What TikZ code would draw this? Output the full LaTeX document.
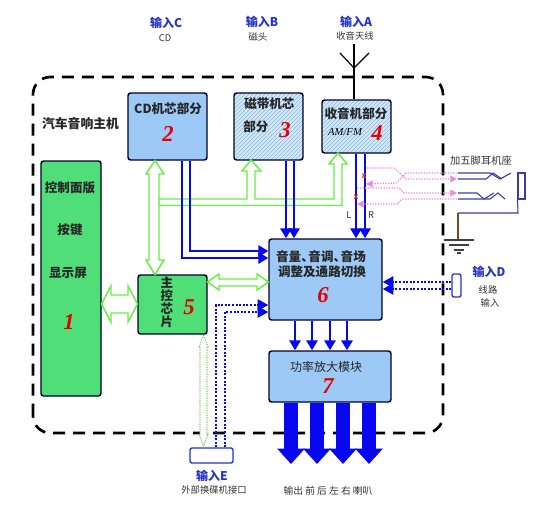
\documentclass[tikz,border=0pt]{standalone}
\usepackage{fontspec}
\setmainfont{Noto Sans CJK SC}
\newfontfamily\numfont{Liberation Serif}
\usetikzlibrary{arrows.meta,patterns,calc}
\definecolor{boxblue}{HTML}{9CC9F5}
\definecolor{hatchbase}{HTML}{D4E8F8}
\definecolor{hatchline}{HTML}{86BAE8}
\definecolor{boxgreen}{HTML}{50DE78}
\definecolor{lightgreen}{HTML}{66EE44}
\definecolor{flowblue}{HTML}{0808F0}
\definecolor{inputblue}{HTML}{2233CC}
\definecolor{pinkline}{HTML}{EE88E0}
\definecolor{jackblue}{HTML}{3A3AA8}
\def\px{0.75pt}
\tikzset{
  unitbox/.style={draw=black!85!blue,line width=1.1pt,rounded corners=2pt,inner sep=0pt},
  bluebox/.style={unitbox,fill=boxblue},
  greenbox/.style={unitbox,fill=boxgreen},
  hatchbox/.style={unitbox,preaction={fill=hatchbase},pattern=north east lines,pattern color=hatchline},
  boxcap/.style={inner sep=0pt,font=\fontsize{9.4}{10}\selectfont\bfseries,text=black!85},
  thintext/.style={inner sep=0pt,font=\fontsize{7}{8}\selectfont,text=black!80},
  inlabel/.style={inner sep=0pt,font=\fontsize{9}{10}\selectfont\bfseries,text=inputblue},
  bignum/.style={inner sep=0pt,text=red!90!black,font=\fontsize{17}{18}\selectfont\numfont\bfseries\itshape},
  flowline/.style={draw=flowblue,line width=1.7pt,-{Triangle[length=7.5pt,width=8.5pt]}},
  flowdot/.style={draw=flowblue,line width=1.5pt,dash pattern=on 1.5pt off 1.2pt,-{Triangle[length=8pt,width=8.5pt]}},
  bigflow/.style={draw=flowblue,line width=10pt,-{Triangle[length=11.5pt,width=20pt]}},
  hollowarrow/.style={draw=lightgreen,fill=white,line width=1.1pt,line join=miter},
  hollowdot/.style={draw=lightgreen!70!gray,fill=white,line width=.8pt,densely dotted},
  pinkpath/.style={draw=pinkline,line width=.9pt,dash pattern=on 1pt off 1pt},
  pinkarrow/.style={pinkpath,-{Triangle[length=5pt,width=5pt,fill=pinkline]}},
  jackline/.style={draw=jackblue,line width=.8pt},
  portbox/.style={draw=inputblue,line width=1pt,fill=white,rounded corners=1.5pt,inner sep=0pt},
}
\begin{document}
\begin{tikzpicture}[x=0.75pt,y=-0.75pt]
\useasboundingbox (0,0) rectangle (548,515);
% frame
\draw[black,line width=2pt,dash pattern=on 9pt off 6pt,rounded corners=13pt] (33,433) -- (33,77) -- (443,77) -- (443,433) -- cycle;
% units
\node[bluebox,minimum width=79*\px,minimum height=67*\px] (cd) at (167.5,126.5) {};
\node[hatchbox,minimum width=69*\px,minimum height=67*\px] (tape) at (268.5,126.5) {};
\node[hatchbox,minimum width=69*\px,minimum height=53*\px] (radio) at (356.5,126.5) {};
\node[greenbox,minimum width=60*\px,minimum height=235*\px] (panel) at (71,278.5) {};
\node[greenbox,minimum width=69*\px,minimum height=59*\px] (chip) at (172.5,304.5) {};
\node[bluebox,minimum width=113*\px,minimum height=81*\px] (six) at (325.5,279.5) {};
\node[bluebox,minimum width=122*\px,minimum height=51*\px] (seven) at (330,376.5) {};
\node[portbox,minimum width=43*\px,minimum height=15*\px] (portE) at (211.5,455.5) {};
\node[portbox,minimum width=9*\px,minimum height=23*\px] (portD) at (456.5,285.5) {};
% hollow green arrows
\draw[hollowarrow] (159,199) -- (247,199) -- (247,171) -- (242,171) -- (251,160) -- (261,171) -- (255,171) -- (255,199) -- (334,199) -- (334,164) -- (329,164) -- (338,153) -- (347,164) -- (342,164) -- (342,205.5) -- (159,205.5) -- cycle;
\draw[hollowarrow] (155,160.5) -- (164,174) -- (159,174) -- (159,260) -- (164,260) -- (155,274.5) -- (146,260) -- (149,260) -- (149,174) -- (146,174) -- cycle;
\draw[hollowarrow] (101.5,304) -- (111,286) -- (111,295) -- (128,295) -- (128,286) -- (137.5,304) -- (128,322) -- (128,313) -- (111,313) -- (111,322) -- cycle;
\draw[hollowarrow] (207.5,282) -- (219,274) -- (219,279) -- (257,279) -- (257,274) -- (268.5,282) -- (257,290) -- (257,286) -- (219,286) -- (219,290) -- cycle;
\draw[hollowdot] (203.5,335) -- (208,347) -- (207,347) -- (207,434) -- (208,434) -- (203.5,447) -- (199,434) -- (200,434) -- (200,347) -- (199,347) -- cycle;
% blue flows
\draw[flowline] (182,0 |- cd.south) -- (182,258) -- (0,258 -| six.west);
\draw[flowline] (190,0 |- cd.south) -- (190,251) -- (0,251 -| six.west);
\draw[flowline] (286,0 |- tape.south) -- (286,0 |- six.north);
\draw[flowline] (294,0 |- tape.south) -- (294,0 |- six.north);
\draw[flowline] (356,0 |- radio.south) -- (356,0 |- six.north);
\draw[flowline] (365,0 |- radio.south) -- (365,0 |- six.north);
\foreach \x in {295,312,330,347} \draw[flowline] (\x,0 |- six.south) -- (\x,0 |- seven.north);
\foreach \x in {291,317,343,369} \draw[bigflow] (\x,0 |- seven.south) -- (\x,464);
\draw[flowdot] (216,0 |- portE.north) -- (216,305) -- (0,305 -| six.west);
\draw[flowdot] (225,0 |- portE.north) -- (225,312) -- (0,312 -| six.west);
\draw[flowdot] (0,282 -| portD.west) -- (0,282 -| six.east);
\draw[flowdot] (0,289 -| portD.west) -- (0,289 -| six.east);
% antenna
\coordinate (antTop) at (354,44);
\coordinate (antJoin) at (354,68);
\draw[black,line width=.9pt] (antTop) -- (354,0 |- radio.north);
\draw[black,line width=.9pt] (340,53) -- (antJoin) -- (369,53);
% jack
\draw[jackline] (458,173) -- (490,173) -- (500,179) -- (511,173);
\draw[jackline] (458,179) -- (486,179) -- (493,173) -- (502,179);
\draw[jackline] (458,193) -- (477,193) -- (484,199) -- (494,193);
\draw[jackline] (458,199) -- (490,199) -- (498,193) -- (505,199);
\node[jackline,draw,fill=white,minimum width=7*\px,minimum height=26*\px,inner sep=0pt] (plug) at (521.5,186) {};
\coordinate (gnd) at (458,240);
\draw[jackline] (plug.south west) -- (518,213) -- (458,213);
\draw[draw=brown!60!black,line width=.8pt] (458,213) -- (gnd);
\draw[black!75,line width=.9pt] (444,240) -- (474,240) (449,245) -- (469,245) (454,250) -- (464,250) (457,253) -- (461,253);
% pink signal paths
\draw[pinkarrow] (457,173) -- (406,173) -- (396,183) -- (366,184);
\draw[pinkarrow] (367,168) -- (394,168) -- (406,179) -- (457,179);
\draw[pinkarrow] (357,188) -- (399,188) -- (404,193) -- (457,193);
\draw[pinkarrow] (457,199) -- (402,199) -- (397,204) -- (357,204);
\node[inner sep=0pt,text=red!80!pink,font=\fontsize{6}{6}\selectfont\bfseries] (x1) at (364,176) {x};
\node[inner sep=0pt,text=red!80!pink,font=\fontsize{6}{6}\selectfont\bfseries] (x2) at (356,197) {x};
% text: inputs
\node[inlabel] (iC) at (166,23) {输入C};
\node[thintext] (tC) at (165,38) {CD};
\node[inlabel] (iB) at (262,22) {输入B};
\node[thintext] (tB) at (258,37) {磁头};
\node[inlabel] (iA) at (356,22) {输入A};
\node[thintext] (tA) at (355,36) {收音天线};
\node[inlabel] (iD) at (489,272) {输入D};
\node[thintext] (tD1) at (488,290) {线路};
\node[thintext] (tD2) at (490,303) {输入};
\node[inlabel] (iE) at (212,476) {输入E};
\node[thintext] (tE) at (214,490) {外部换碟机接口};
\node[thintext,font=\fontsize{7.3}{8}\selectfont] (tOut) at (328,491) {输出 前 后 左 右 喇叭};
\node[thintext,font=\fontsize{7.7}{9}\selectfont] (tJack) at (481,161) {加五脚耳机座};
\node[thintext,font=\fontsize{7}{8}\selectfont] (tL) at (349,215) {L};
\node[thintext,font=\fontsize{7}{8}\selectfont] (tR) at (371,215) {R};
\node[boxcap,font=\fontsize{9.6}{10}\selectfont\bfseries] (tMain) at (80.5,124) {汽车音响主机};
% text: units
\node[boxcap] (c2) at (168,109) {CD机芯部分};
\node[bignum] (n2) at (168,134) {2};
\node[boxcap,anchor=west] (c3a) at (244,104) {磁带机芯};
\node[boxcap,anchor=west] (c3b) at (243,127) {部分};
\node[bignum] (n3) at (285,130) {3};
\node[boxcap] (c4) at (356,114) {收音机部分};
\node[inner sep=0pt,font=\fontsize{8}{9}\selectfont\numfont\itshape] (c4b) at (345,132) {AM/FM};
\node[bignum] (n4) at (377,133) {4};
\node[boxcap] (c1a) at (70,188) {控制面版};
\node[boxcap] (c1b) at (70,230) {按键};
\node[boxcap] (c1c) at (68,273) {显示屏};
\node[bignum] (n1) at (69,322) {1};
\node[boxcap] (c5a) at (167,283) {主};
\node[boxcap] (c5b) at (167,296) {控};
\node[boxcap] (c5c) at (167,309) {芯};
\node[boxcap] (c5d) at (167,322) {片};
\node[bignum] (n5) at (189,307) {5};
\node[boxcap] (c6a) at (321,257) {音量、\kern-4pt 音调、\kern-4pt 音场};
\node[boxcap] (c6b) at (322,272) {调整及通路切换};
\node[bignum] (n6) at (323,295) {6};
\node[boxcap,font=\fontsize{9}{10}\selectfont] (c7) at (326,367) {功率放大模块};
\node[bignum] (n7) at (328,386) {7};
\end{tikzpicture}
\end{document}
